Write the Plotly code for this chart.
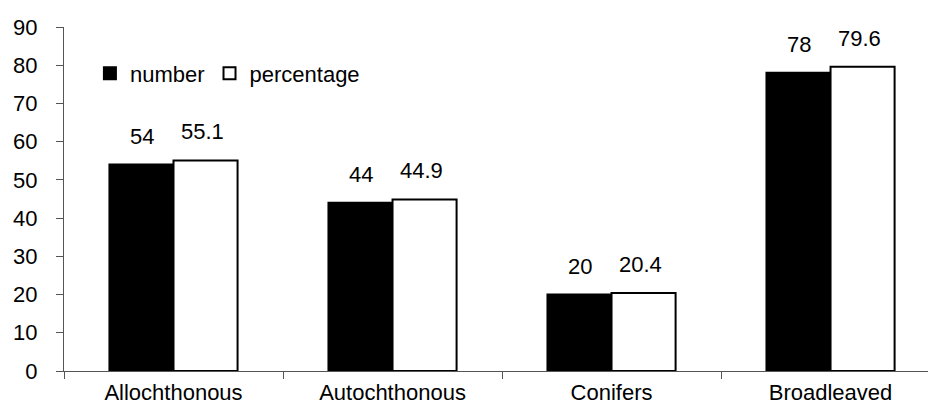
import plotly.graph_objects as go

categories = ["Allochthonous", "Autochthonous", "Conifers", "Broadleaved"]
number = [54, 44, 20, 78]
percentage = [55.1, 44.9, 20.4, 79.6]
y_ticks = list(range(0, 100, 10))

FONT = "Liberation Sans, Arial, sans-serif"
FS = 22

fig = go.Figure()
fig.add_trace(go.Bar(
    name="number", x=categories, y=number,
    marker=dict(color="black", line=dict(color="black", width=2)),
))
fig.add_trace(go.Bar(
    name="percentage", x=categories, y=percentage,
    marker=dict(color="white", line=dict(color="black", width=2)),
))

# value labels above each bar
for vals, shift in ((number, -32), (percentage, 29)):
    for c, v in zip(categories, vals):
        fig.add_annotation(
            x=c, y=v, text=f"{v:g}", showarrow=False,
            xref="x", yref="y", xshift=shift, yshift=14,
            yanchor="bottom", font=dict(size=FS, color="black", family=FONT),
        )

fig.update_layout(
    width=928, height=410,
    margin=dict(l=64, r=0, t=27, b=39),
    paper_bgcolor="white", plot_bgcolor="white",
    barmode="group", bargap=0.415, bargroupgap=0,
    font=dict(family=FONT, size=FS, color="black"),
    showlegend=True,
    legend=dict(
        orientation="h", x=0.03, y=0.865, xanchor="left", yanchor="middle",
        bgcolor="rgba(0,0,0,0)", font=dict(size=FS), itemwidth=30,
        traceorder="normal",
    ),
)
fig.update_xaxes(
    range=[-0.5, 3.445], showgrid=False, showline=True, linecolor="#555",
    linewidth=1, ticks="outside", ticklen=7, tickcolor="#555",
    tickson="boundaries", tickfont=dict(size=FS), zeroline=False,
    ticklabelstandoff=2,
)
fig.update_yaxes(
    range=[0, 90], tickvals=y_ticks, showgrid=False, showline=True,
    linecolor="#555", linewidth=1, ticks="outside", ticklen=7,
    tickcolor="#555", tickfont=dict(size=FS), zeroline=False,
    ticklabelstandoff=14,
)

fig.write_html("out.html")
